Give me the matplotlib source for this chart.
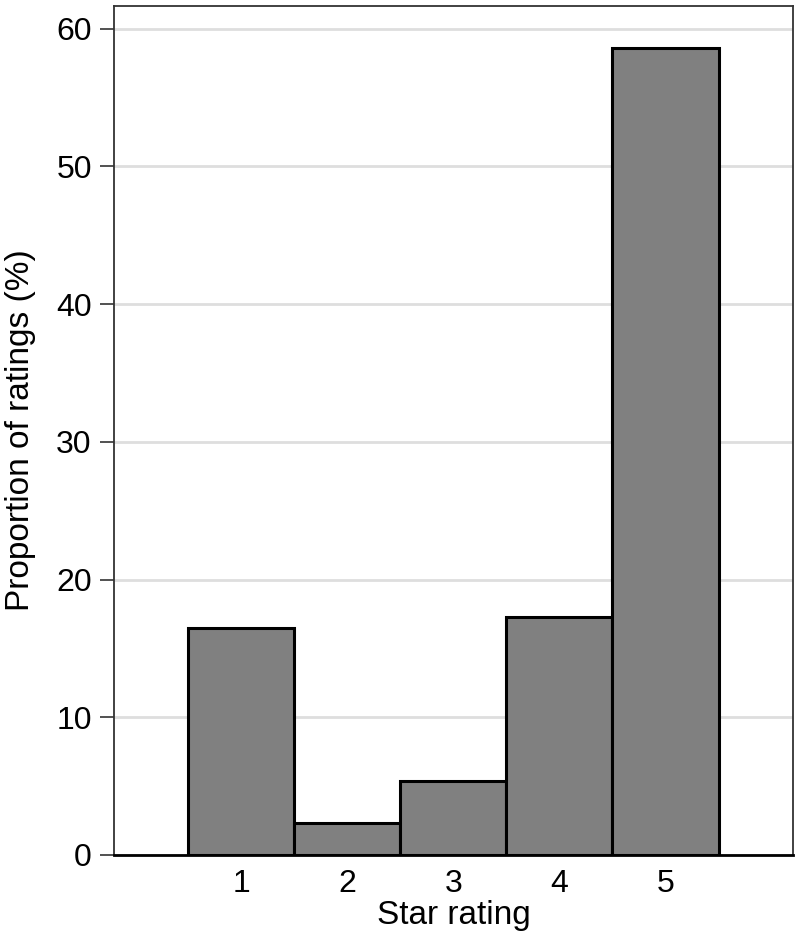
import matplotlib
matplotlib.use("Agg")
import matplotlib.pyplot as plt

ratings = [1, 2, 3, 4, 5]
proportions = [16.5, 2.3, 5.4, 17.3, 58.6]
yticks = [0, 10, 20, 30, 40, 50, 60]

plt.rcParams['font.family'] = ['Liberation Sans', 'DejaVu Sans']

fig = plt.figure(figsize=(8, 9.42), dpi=100)
ax = fig.add_axes([0.1425, 0.0924, 0.991 - 0.1425, 0.9936 - 0.0924])

ax.bar(ratings, proportions, width=1.0, color='#808080', edgecolor='black',
       linewidth=2.2, zorder=3)

ax.set_xlim(-0.2, 6.2)
ax.set_ylim(0, 61.65)
ax.set_yticks(yticks)
ax.set_xticks(ratings)
ax.yaxis.grid(True, color='#dedede', linewidth=2, zorder=0)
ax.set_axisbelow(True)

for s in ['left', 'right', 'top']:
    ax.spines[s].set_color('#333333')
    ax.spines[s].set_linewidth(1.3)
ax.spines['bottom'].set_color('black')
ax.spines['bottom'].set_linewidth(2)
ax.spines['bottom'].set_zorder(4)

ax.tick_params(axis='y', length=10, width=1.2, color='#333333', labelsize=23, pad=6)
ax.tick_params(axis='x', length=0, labelsize=23, pad=10)

ax.set_xlabel('Star rating', fontsize=24)
ax.set_ylabel('Proportion of ratings (%)', fontsize=24)
ax.xaxis.set_label_coords(0.5, -0.053)
ax.yaxis.set_label_coords(-0.115, 0.5)

fig.savefig('out.png', dpi=100)
